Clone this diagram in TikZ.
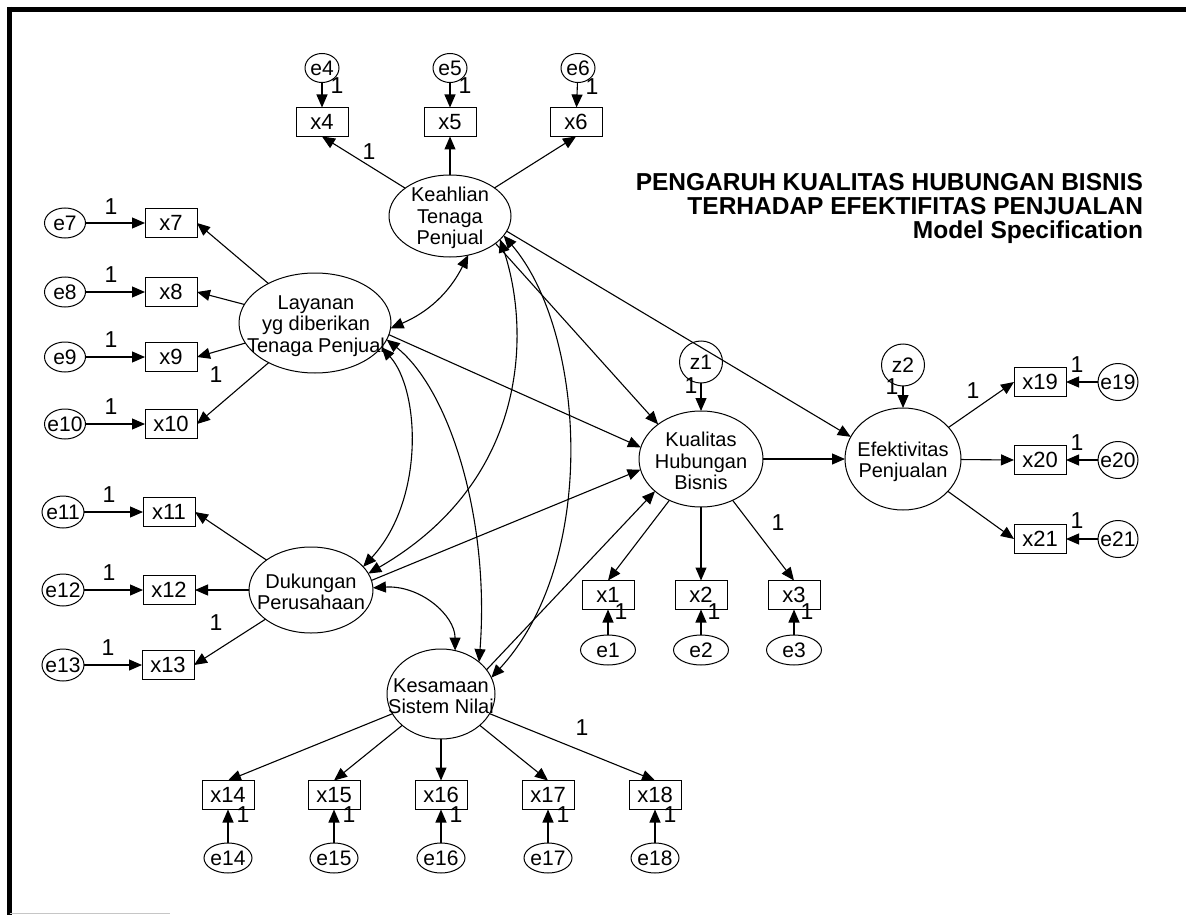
\documentclass[tikz,border=0pt]{standalone}
\usepackage{fontspec}
\setmainfont{Liberation Sans}
\usetikzlibrary{shapes.geometric,arrows.meta}
% zero-width box so small ellipses keep their set size
\newcommand{\zw}[1]{\makebox[0pt]{#1}}

\begin{document}
\begin{tikzpicture}[x=1pt,y=1pt,
  every node/.style={inner sep=0pt,outer sep=0pt},
  latent/.style={draw,line width=1pt,ellipse},
  ltext/.style={align=center,font=\fontsize{20}{21.5}\selectfont},
  obs/.style={draw,line width=1pt,rectangle,minimum width=52pt,minimum height=29pt,font=\fontsize{22}{24}\selectfont},
  err/.style={draw,line width=1pt,ellipse,font=\fontsize{21}{23}\selectfont},
  wt/.style={font=\fontsize{23}{25}\selectfont},
  arr/.style={line width=1.1pt,-{Triangle[length=13pt,width=11pt]}},
  cov/.style={line width=1.1pt,{Triangle[length=13pt,width=11pt]}-{Triangle[length=13pt,width=11pt]}},
  ttl/.style={anchor=base east,font=\bfseries\fontsize{24.5}{25}\selectfont}
]
\useasboundingbox (0,0) rectangle (1186,-915);
\fill[white] (0,0) rectangle (1186,-915);

% page frame
\draw[line width=5pt] (9.5,-9.5) -- (1186,-9.5);
\draw[line width=5pt] (9.5,-7) -- (9.5,-915);
\draw[gray!45,line width=1pt] (9.5,-913) -- (170,-913);

% title
\node[ttl] (t1) at (1143,-190) {PENGARUH KUALITAS HUBUNGAN BISNIS};
\node[ttl] (t2) at (1143,-214) {TERHADAP EFEKTIFITAS PENJUALAN};
\node[ttl] (t3) at (1143,-238) {Model Specification};

% latent variables
\node[latent,minimum width=122pt,minimum height=82pt]  (kea) at (450,-216) {};
\node[latent,minimum width=152pt,minimum height=100pt] (lay) at (315,-323) {};
\node[latent,minimum width=124pt,minimum height=86pt]  (duk) at (311,-590) {};
\node[latent,minimum width=108pt,minimum height=90pt]  (kes) at (441,-694) {};
\node[latent,minimum width=124pt,minimum height=96pt]  (kua) at (701,-459) {};
\node[latent,minimum width=116pt,minimum height=102pt] (efe) at (903,-459) {};
\node[ltext] (kea-t) at (450,-218) {Keahlian\\Tenaga\\Penjual};
\node[ltext] (lay-t) at (316,-326) {Layanan\\yg diberikan\\Tenaga Penjual};
\node[ltext] (duk-t) at (311,-592) {Dukungan\\Perusahaan};
\node[ltext] (kes-t) at (441,-696) {Kesamaan\\Sistem Nilai};
\node[ltext] (kua-t) at (701,-461) {Kualitas\\Hubungan\\Bisnis};
\node[ltext] (efe-t) at (903,-462) {Efektivitas\\Penjualan};

% disturbances
\node[err,minimum width=43pt,minimum height=42pt] (z1) at (701,-362) {\zw{z1}};
\node[err,minimum width=43pt,minimum height=42pt] (z2) at (903,-365) {\zw{z2}};

% indicators
\foreach \n/\x/\y in {4/322/122,5/450/122,6/576/122,
                      7/171/223,8/171/292,9/171/357,10/171/424,
                      11/169/512,12/169/590,13/168/665,
                      1/608/595,2/701/595,3/794/595,
                      14/228/795,15/334/795,16/441/795,17/548/795,18/655/795,
                      19/1040/382,20/1040/460,21/1040/539}
  \node[obs] (x\n) at (\x,-\y) {x\n};

% measurement errors
\foreach \n/\x/\y in {4/322/68,5/450/68,6/578/68}
  \node[err,minimum width=34pt,minimum height=29pt] (e\n) at (\x,-\y) {\zw{e\n}};
\foreach \n/\x/\y in {7/65/223,8/65/292,9/65/357,10/65/424}
  \node[err,minimum width=41pt,minimum height=30pt] (e\n) at (\x,-\y) {\zw{e\n}};
\foreach \n/\x/\y in {11/63/512,12/63/590,13/63/665}
  \node[err,minimum width=42pt,minimum height=32pt] (e\n) at (\x,-\y) {\zw{e\n}};
\foreach \n/\x in {1/608,2/701,3/794}
  \node[err,minimum width=55pt,minimum height=30pt] (e\n) at (\x,-650) {\zw{e\n}};
\foreach \n/\x in {14/228,15/334,16/441,17/548,18/655}
  \node[err,minimum width=48pt,minimum height=30pt] (e\n) at (\x,-858) {\zw{e\n}};
\foreach \n/\y in {19/382,20/460,21/539}
  \node[err,minimum width=40pt,minimum height=37pt] (e\n) at (1118,-\y) {\zw{e\n}};

% error -> indicator paths
\foreach \n in {1,...,21} \draw[arr] (e\n) -- (x\n);
\draw[arr] (z1) -- (kua);
\draw[arr] (z2) -- (efe);

% loadings
\foreach \n in {4,5,6} \draw[arr] (kea) -- (x\n.south);
\foreach \n in {7,8,9,10} \draw[arr] (lay) -- (x\n.east);
\foreach \n in {11,12,13} \draw[arr] (duk) -- (x\n.east);
\foreach \n in {14,...,18} \draw[arr] (kes) -- (x\n.north);
\foreach \n in {1,2,3} \draw[arr] (kua) -- (x\n.north);
\foreach \n in {19,20,21} \draw[arr] (efe) -- (x\n.west);

% structural paths
\draw[arr] (kea.-31) -- (kua.141);
\draw[arr] (kea.-15) -- (efe.157);
\draw[arr] (lay.-9) -- (kua.169);
\draw[arr] (duk.9) -- (kua.190);
\draw[arr] (kes.28) -- (kua.215);
\draw[arr] (kua) -- (efe);

% covariances among exogenous constructs
\draw[cov] (kea.-65) to[bend left=20] (lay.-4);
\draw[cov] (kea.-25) .. controls (530,-330) and (530,-480) .. (duk.16);
\draw[cov] (kea.-20) .. controls (585,-330) and (600,-560) .. (kes.18);
\draw[cov] (lay.-20) .. controls (420,-390) and (425,-500) .. (duk.24);
\draw[cov] (lay.-13) .. controls (450,-390) and (490,-520) .. (kes.40);
\draw[cov] (duk.2) .. controls (420,-585) and (455,-615) .. (kes.72);

% fixed parameters
\foreach \n/\x/\y in {e4/337/86,e5/465/86,e6/592/87,
                      e7/111/207,e8/111/275,e9/111/340,e10/111/407,
                      e11/109/495,e12/109/573,e13/108/648,
                      e1/621/612,e2/714/612,e3/807/612,
                      e14/243/815,e15/349/815,e16/456/815,e17/563/815,e18/670/815,
                      e19/1077/365,e20/1077/443,e21/1077/521,
                      z1/691/386,z2/892/387,
                      x4/369/152,x10/216/375,x13/216/623,x3/778/523,x18/582/728,x19/973/391}
  \node[wt] (w-\n) at (\x,-\y) {1};
\end{tikzpicture}
\end{document}
